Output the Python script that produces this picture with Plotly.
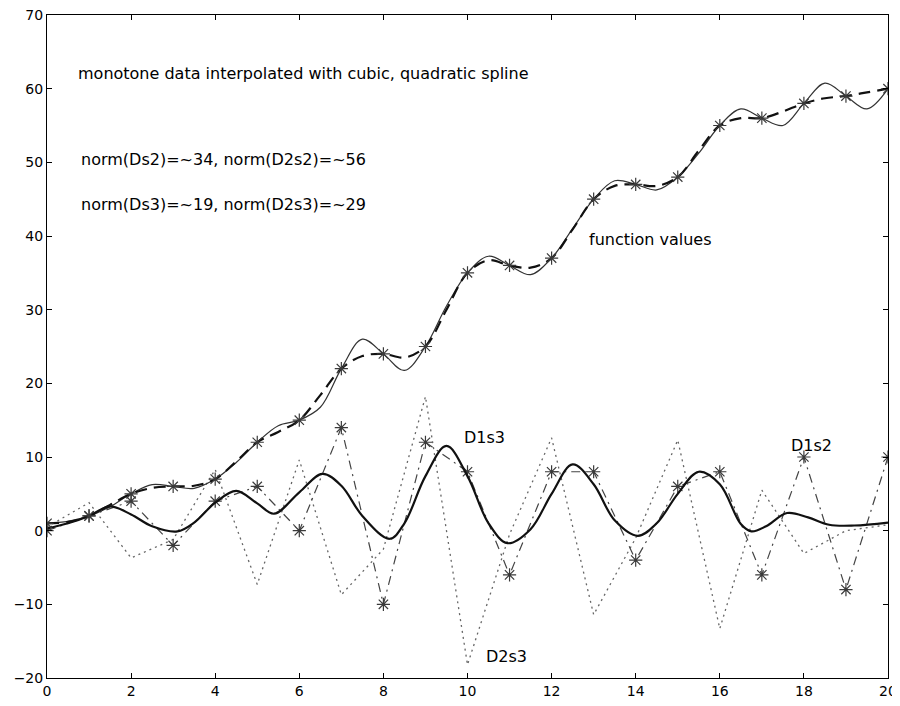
import plotly.graph_objects as go

# knots and monotone data
x_knots = list(range(21))
y_data = [1, 2, 5, 6, 7, 12, 15, 22, 24, 25, 35, 36, 37, 45, 47, 48, 55, 56, 58, 59, 60]

# derivative of quadratic spline at knots (D1s2, piecewise linear)
d1s2 = [0, 2, 4, -2, 4, 6, 0, 14, -10, 12, 8, -6, 8, 8, -4, 6, 8, -6, 10, -8, 10]

# second derivative of cubic spline at knots (D2s3, piecewise linear)
d2s3 = [0.5, 3.8, -3.7, -1.2, 8.3, -7.3, 9.6, -8.7, -2.5, 18.2, -18.2, -0.5, 12.6,
        -11.4, -1.0, 12.3, -13.3, 5.5, -3.1, 0.0, 0.8]

# quadratic spline (thin solid) read at half steps
x_half = [i / 2 for i in range(41)]
s2_vals = [1, 1.25, 2, 3.25, 5, 6.25, 6, 5.75, 7, 9.25, 12, 14.25, 15, 16.75, 22, 26,
           24, 21.75, 25, 30.5, 35, 37.25, 36, 34.75, 37, 41, 45, 47.5, 47, 46.25,
           48, 51.25, 55, 57.25, 56, 55, 58, 60.75, 59, 57.25, 60]

# cubic spline (thick dashed) read at half steps
s3_vals = [1, 1.2, 2, 3.5, 5, 5.8, 6, 6.1, 7, 9.4, 12, 13.4, 15, 18.4, 22, 23.7,
           24, 23.5, 25, 30, 35, 36.7, 36, 35.7, 37, 40.9, 45, 46.8, 47, 46.8,
           48, 51.6, 55, 56, 56, 56.9, 58, 58.7, 59, 59.5, 60]

# derivative of cubic spline (thick solid)
x_d1s3 = [0, 0.5, 1, 1.5, 2, 2.5, 3.1, 3.5, 4, 4.5, 5, 5.4, 6, 6.55, 7, 7.5, 8.15,
          8.5, 9, 9.5, 10, 10.5, 10.95, 11.5, 12, 12.5, 13, 13.5, 14.05, 14.5, 15,
          15.5, 16, 16.5, 16.75, 17.1, 17.6, 18.1, 18.6, 19.2, 20]
d1s3 = [0.3, 1.0, 2.0, 3.3, 2.2, 0.6, -0.1, 1.1, 3.8, 5.4, 3.7, 2.3, 5.2, 7.7, 6.1,
        2.0, -1.1, 1.0, 7.4, 11.5, 7.4, 1.0, -1.7, 0.2, 5.0, 9.0, 6.3, 1.4, -0.7,
        1.0, 5.0, 8.0, 6.3, 0.9, -0.1, 0.6, 2.4, 1.8, 0.8, 0.7, 1.1]

x_ticks = [0, 2, 4, 6, 8, 10, 12, 14, 16, 18, 20]
y_ticks = [-20, -10, 0, 10, 20, 30, 40, 50, 60, 70]

star = dict(symbol="asterisk-open", size=11, color="#3a3a3a",
            line=dict(width=1.2, color="#3a3a3a"))

fig = go.Figure()
fig.add_trace(go.Scatter(x=x_knots, y=d2s3, mode="lines",
                         line=dict(color="#666", width=1.3, dash="2px,4px")))
fig.add_trace(go.Scatter(x=x_knots, y=d1s2, mode="lines+markers",
                         line=dict(color="#444", width=1.2, dash="9px,5px,2px,5px"),
                         marker=star))
fig.add_trace(go.Scatter(x=x_half, y=s2_vals, mode="lines", line_shape="spline",
                         line=dict(color="#333", width=1.2)))
fig.add_trace(go.Scatter(x=x_half, y=s3_vals, mode="lines", line_shape="spline",
                         line=dict(color="#111", width=2.2, dash="12px,7px")))
fig.add_trace(go.Scatter(x=x_d1s3, y=d1s3, mode="lines", line_shape="spline",
                         line=dict(color="#111", width=2.2)))
fig.add_trace(go.Scatter(x=x_knots, y=y_data, mode="markers", marker=star))

font = dict(family="DejaVu Sans", size=16, color="black")
notes = [
    (0.7, 62, "monotone data interpolated with cubic, quadratic spline"),
    (0.75, 50.4, "norm(Ds2)=~34, norm(D2s2)=~56"),
    (0.75, 44.3, "norm(Ds3)=~19, norm(D2s3)=~29"),
    (12.85, 39.5, "function values"),
    (9.87, 12.6, "D1s3"),
    (10.39, -17.1, "D2s3"),
    (17.65, 11.5, "D1s2"),
]
for nx, ny, t in notes:
    fig.add_annotation(x=nx, y=ny, text=t, showarrow=False, xanchor="left",
                       yanchor="middle", font=font)

axis_common = dict(showgrid=False, zeroline=False, showline=True, linecolor="black",
                   linewidth=1, mirror="ticks", ticks="inside", ticklen=5,
                   tickcolor="black", automargin=False, ticklabeloverflow="allow",
                   tickfont=dict(family="DejaVu Sans", size=14, color="black"))
# page body adds an 8px offset, so the figure is 8px smaller on each axis
fig.update_layout(
    width=892, height=698, showlegend=False,
    margin=dict(l=39, r=12, t=7, b=28),
    plot_bgcolor="white", paper_bgcolor="white",
    xaxis=dict(range=[0, 20], tickvals=x_ticks, **axis_common),
    yaxis=dict(range=[-20, 70], tickvals=y_ticks, **axis_common),
)
fig.write_html("out.html")
